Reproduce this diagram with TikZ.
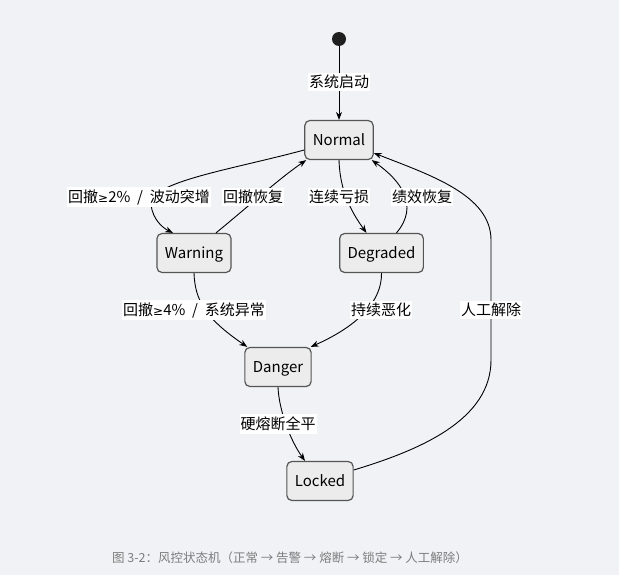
\documentclass[tikz,border=0pt]{standalone}
\usepackage{fontspec}
\setmainfont{Noto Sans CJK SC}
\newfontfamily\symfnt{DejaVu Sans}
\newcommand{\geqsym}{{\symfnt\fontsize{12}{14}\selectfont ≥}}
\usetikzlibrary{arrows.meta}
\definecolor{bg}{RGB}{240,242,245}
\definecolor{statefill}{RGB}{236,236,236}
\definecolor{stateline}{RGB}{85,85,85}
\definecolor{capgray}{RGB}{125,125,125}
\begin{document}
\begin{tikzpicture}[x=1pt,y=-1pt,
  state/.style={draw=stateline, fill=statefill, rounded corners=5pt, line width=1.2pt, minimum height=39pt, inner xsep=8pt, text height=11pt, text depth=0pt, font=\fontsize{15}{18}\selectfont},
  lbl/.style={fill=white, inner xsep=1pt, inner ysep=2.5pt, font=\fontsize{15}{18}\selectfont},
  tr/.style={-{Stealth[length=8pt,width=6pt]}, line width=0.9pt, black},
]
\fill[bg] (0,0) rectangle (619,575);
\useasboundingbox (0,0) rectangle (619,575);

\node[circle, fill=black!88, minimum size=14pt, inner sep=0pt] (start) at (339,39) {};
\node[state, minimum width=66pt] (normal) at (339,140) {Normal};
\node[state, minimum width=74pt] (warning) at (194,253) {Warning};
\node[state, minimum width=83pt] (degraded) at (381.5,253) {Degraded};
\node[state, minimum width=66pt] (danger) at (278,367) {Danger};
\node[state, minimum width=66pt] (locked) at (320,481) {Locked};

\draw[tr] (start) -- (normal);
\draw[tr] ([yshift=-10pt]normal.west) .. controls (230,170) and (148,182) .. (151,205)
   .. controls (153,220) and (163,228) .. ([xshift=-21pt]warning.north);
\draw[tr] ([xshift=22pt]warning.north) .. controls (250,205) and (280,178) .. ([xshift=2pt]normal.south west);
\draw[tr] (normal.south) .. controls (340,190) and (350,210) .. ([xshift=-15pt]degraded.north);
\draw[tr] ([xshift=15pt]degraded.north) .. controls (420,205) and (400,180) .. ([xshift=-2pt]normal.south east);
\draw[tr] (warning.south) .. controls (195,300) and (205,318) .. ([xshift=3pt]danger.north west);
\draw[tr] (degraded.south) .. controls (382,300) and (360,325) .. ([xshift=-1pt]danger.north east);
\draw[tr] (danger.south) .. controls (279,410) and (290,440) .. ([xshift=-15pt]locked.north);
\draw[tr] ([yshift=11pt]locked.east) .. controls (420,450) and (491,420) .. (491,360) -- (491,240)
   .. controls (491,195) and (430,175) .. ([yshift=-13pt]normal.east);

\node[lbl] (l0) at (339,82) {系统启动};
\node[lbl] (l1) at (139,197) {回撤\geqsym 2\%\ \ /\ \ 波动突增};
\node[lbl] (l2) at (253,197) {回撤恢复};
\node[lbl] (l3) at (339,197) {连续亏损};
\node[lbl] (l4) at (422,197) {绩效恢复};
\node[lbl] (l5) at (194,310) {回撤\geqsym 4\%\ \ /\ \ 系统异常};
\node[lbl] (l6) at (381,310) {持续恶化};
\node[lbl] (l7) at (491,310) {人工解除};
\node[lbl] (l8) at (278,424) {硬熔断全平};

\node[font=\fontsize{12.5}{15}\selectfont, text=capgray] (cap) at (290,558) {图 3-2：风控状态机（正常 → 告警 → 熔断 → 锁定 → 人工解除）};
\end{tikzpicture}
\end{document}
